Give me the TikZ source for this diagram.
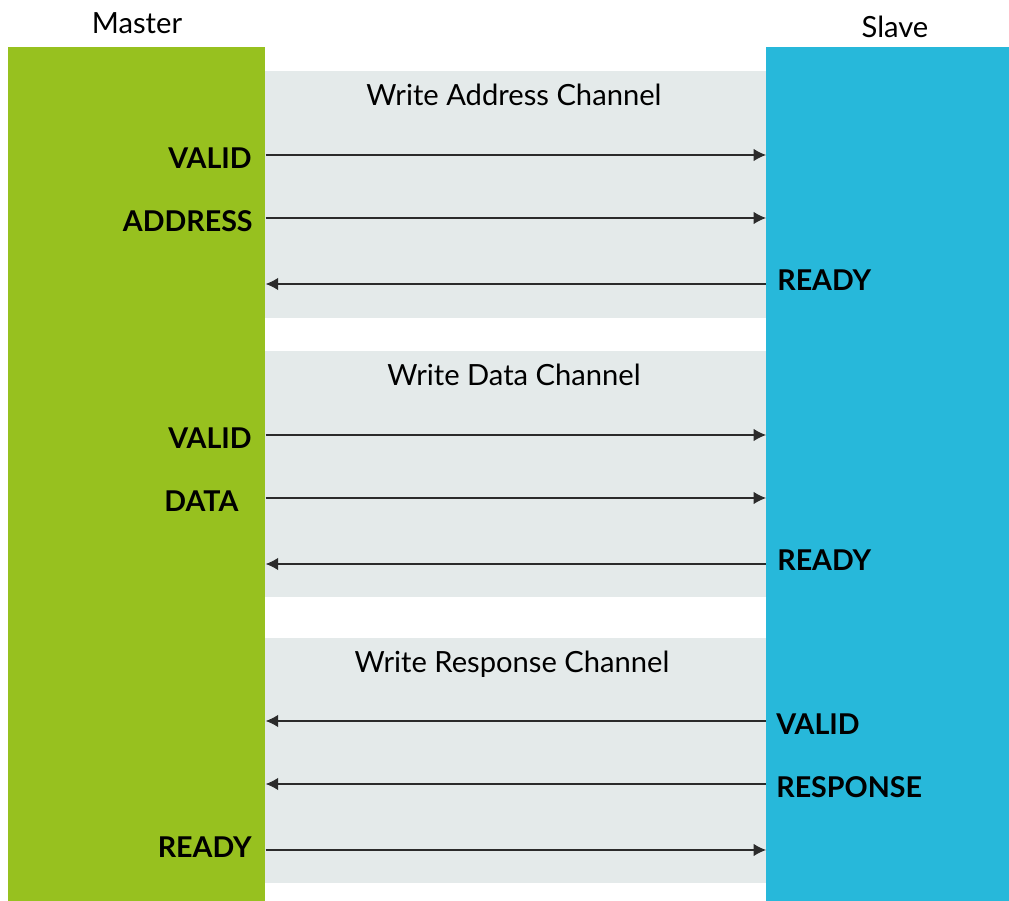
\documentclass[tikz,border=0pt]{standalone}
\usepackage{fontspec}
\setmainfont{Lato}
\usetikzlibrary{arrows.meta}

\definecolor{mgreen}{HTML}{97C11F}
\definecolor{sblue}{HTML}{27B8DA}
\definecolor{chgrey}{HTML}{E4EAEA}
\definecolor{wire}{HTML}{2B2B2B}

\tikzset{
  sig/.style={wire, line width=0.6pt, -{Latex[length=7pt,width=7pt]}},
  bar/.style={draw=none, inner sep=0pt, anchor=north west},
  chan/.style={fill=chgrey, draw=none},
  title/.style={font=\fontsize{16.6}{19}\selectfont, anchor=base},
  lbl/.style={font=\fontsize{16.3}{19}\selectfont\bfseries, inner sep=0pt}
}

\begin{document}
\begin{tikzpicture}[x=0.02cm, y=-0.02cm]
\useasboundingbox (0,0) rectangle (1009,901);

% channel backgrounds
\fill[chan] (265,71) rectangle (766,318);
\fill[chan] (265,351) rectangle (766,597);
\fill[chan] (265,638) rectangle (766,883);

% master / slave bars
\node[bar, fill=mgreen, minimum width=257*0.02cm, minimum height=854*0.02cm] (master) at (8,47) {};
\node[bar, fill=sblue, minimum width=243*0.02cm, minimum height=854*0.02cm] (slave) at (766,47) {};

\node[title] (mname) at (137,34) {Master};
\node[title] (sname) at (895,38) {Slave};

\node[title] (waddr) at (514,106) {Write Address Channel};
\node[title] (wdata) at (514,386) {Write Data Channel};
\node[title] (wresp) at (512,673) {Write Response Channel};

% signals master -> slave
\foreach \y in {155,218,435,498,850}{
	\draw[sig] (master.east |- {0,\y}) -- (slave.west |- {0,\y});
}
% signals slave -> master
\foreach \y in {284,564,721,784}{
	\draw[sig] (slave.west |- {0,\y}) -- (master.east |- {0,\y});
}

% master side labels
\node[lbl, anchor=base east] (avalid) at (252,169) {VALID};
\node[lbl, anchor=base east] (aaddr) at (253,232) {ADDRESS};
\node[lbl, anchor=base east] (dvalid) at (252,449) {VALID};
\node[lbl, anchor=base west] (ddata) at (164,512) {DATA};
\node[lbl, anchor=base east] (bready) at (252,858) {READY};

% slave side labels
\node[lbl, anchor=base west] (aready) at (777,291) {READY};
\node[lbl, anchor=base west] (dready) at (777,571) {READY};
\node[lbl, anchor=base west] (bvalid) at (776,735) {VALID};
\node[lbl, anchor=base west] (bresp) at (776,798) {RESPONSE};
\end{tikzpicture}
\end{document}
